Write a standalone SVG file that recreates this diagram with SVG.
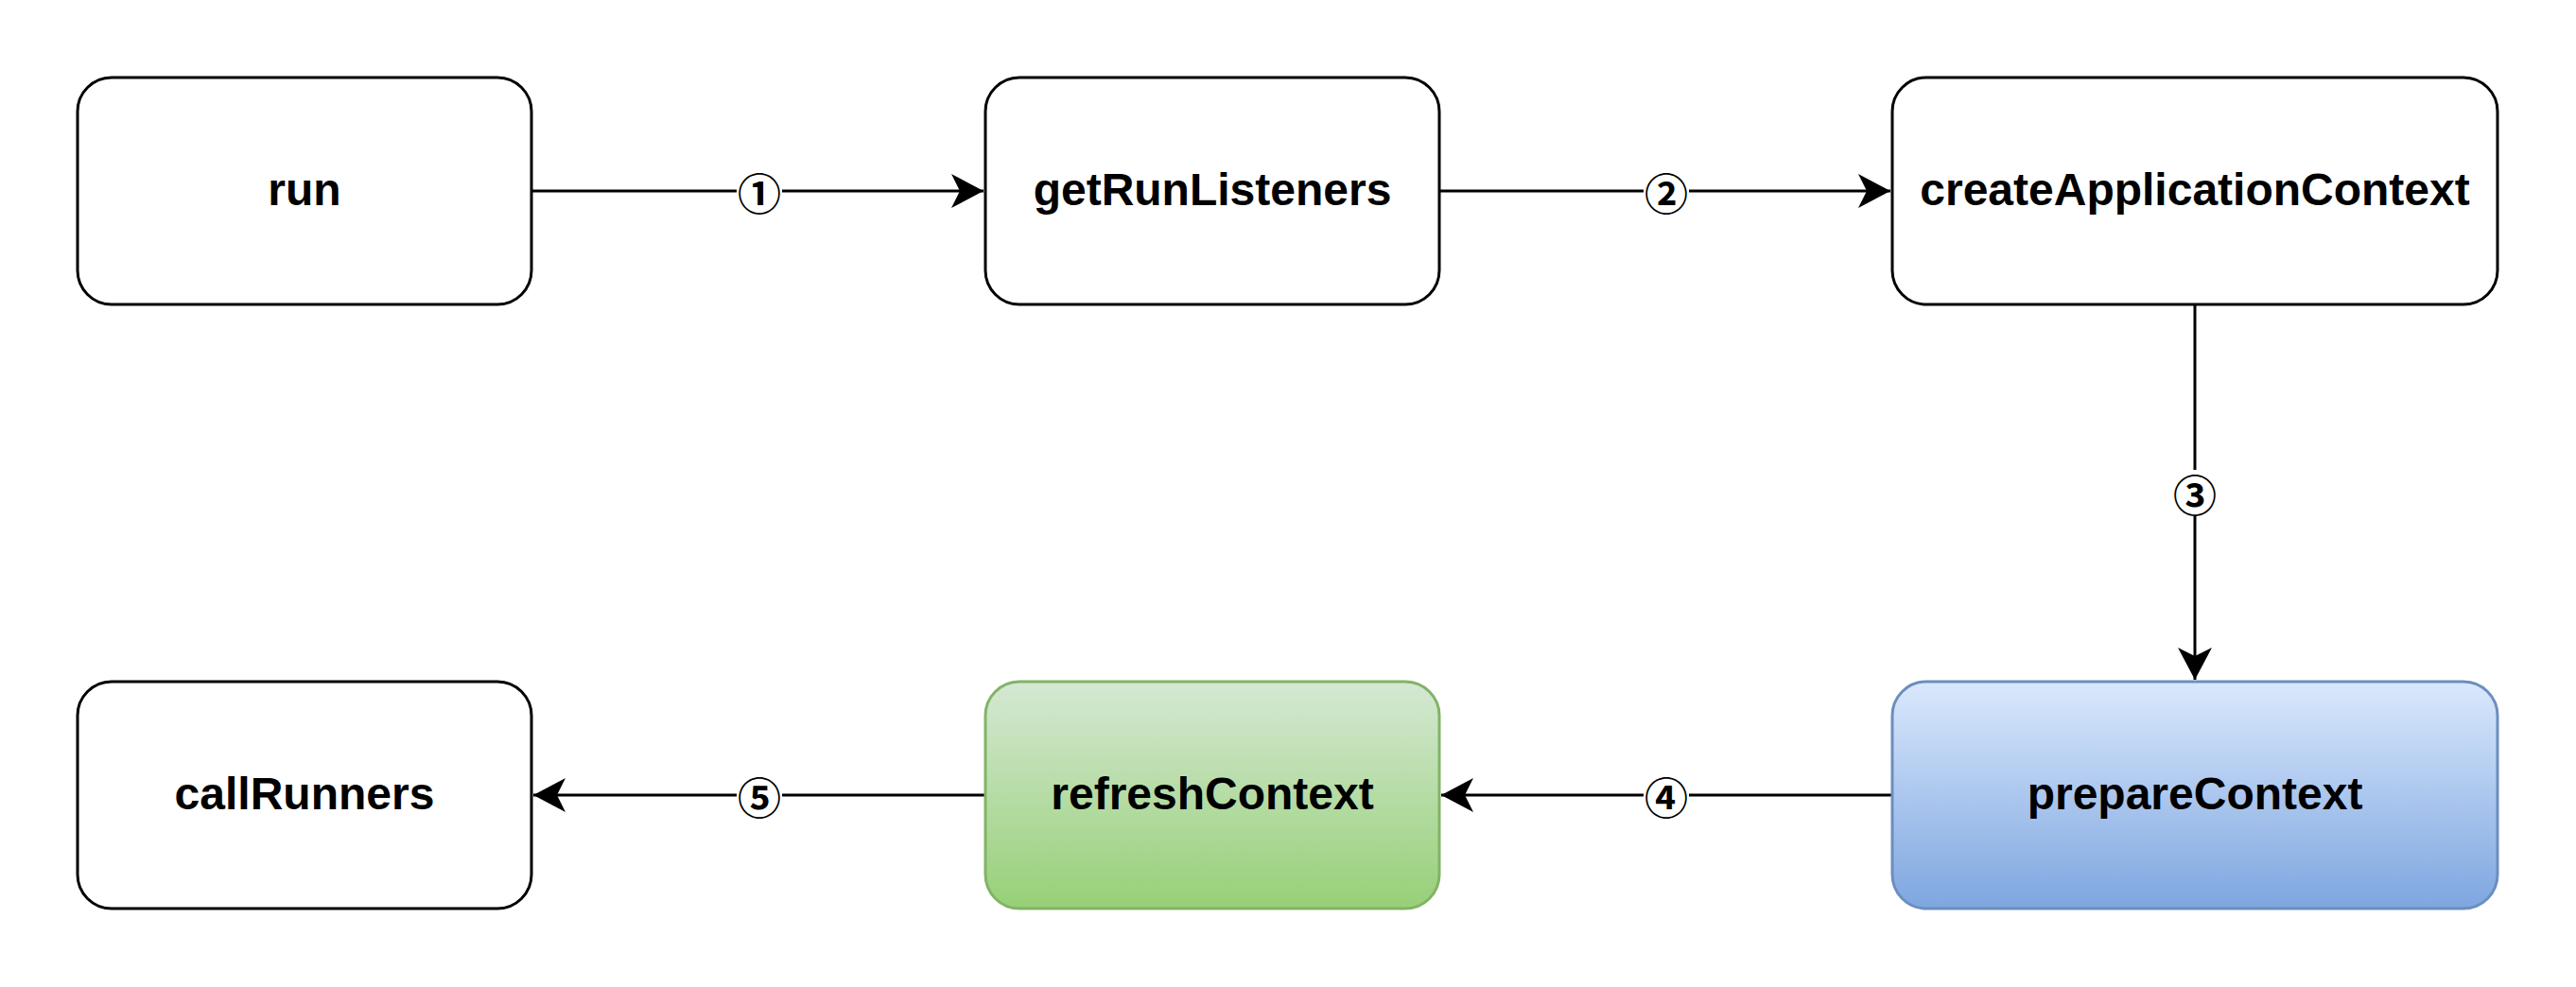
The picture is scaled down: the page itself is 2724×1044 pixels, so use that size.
<svg xmlns="http://www.w3.org/2000/svg" width="2724" height="1044" viewBox="0 0 2724 1044">
<style>
.box{stroke-width:3;}
.plain{fill:#ffffff;stroke:#000000;}
.lbl{font-family:"Liberation Sans",Arial,sans-serif;font-weight:bold;font-size:48px;fill:#000;text-anchor:middle;dominant-baseline:central;}
.edge{fill:none;stroke:#000;stroke-width:3;}
.num{font-family:"Noto Sans CJK SC","Noto Sans CJK JP",sans-serif;font-weight:bold;font-size:46px;fill:#000;text-anchor:middle;dominant-baseline:central;}
.bg{fill:#ffffff;}
</style>
<defs>
<linearGradient id="gBlue" x1="0" y1="0" x2="0" y2="1"><stop offset="0" stop-color="#dae8fc"/><stop offset="1" stop-color="#7ea6e0"/></linearGradient>
<linearGradient id="gGreen" x1="0" y1="0" x2="0" y2="1"><stop offset="0" stop-color="#d5e8d4"/><stop offset="1" stop-color="#97d077"/></linearGradient>
<marker id="arr" markerUnits="userSpaceOnUse" markerWidth="40" markerHeight="40" viewBox="-36 -20 40 40" refX="0" refY="0" orient="auto">
<path d="M0,0 L-34,-18 L-25,0 L-34,18 Z" fill="#000"/>
</marker>
</defs>
<rect width="2724" height="1044" fill="#ffffff"/>
<g id="connectors">
<g id="e1"><path class="edge" d="M562,202 L1040,202" marker-end="url(#arr)"/><rect class="bg" x="779" y="180" width="48" height="44"/><text class="num" x="803" y="202">①</text></g>
<g id="e2"><path class="edge" d="M1522,202 L1999,202" marker-end="url(#arr)"/><rect class="bg" x="1738" y="180" width="48" height="44"/><text class="num" x="1762" y="202">②</text></g>
<g id="e3"><path class="edge" d="M2321,322 L2321,719" marker-end="url(#arr)"/><rect class="bg" x="2297" y="497" width="48" height="48"/><text class="num" x="2321" y="521">③</text></g>
<g id="e4"><path class="edge" d="M2001,841 L1524,841" marker-end="url(#arr)"/><rect class="bg" x="1738" y="819" width="48" height="44"/><text class="num" x="1762" y="841">④</text></g>
<g id="e5"><path class="edge" d="M1042,841 L564,841" marker-end="url(#arr)"/><rect class="bg" x="779" y="819" width="48" height="44"/><text class="num" x="803" y="841">⑤</text></g>
</g>
<g id="node-run"><rect class="box plain" x="82" y="82" width="480" height="240" rx="36" ry="36"/><text class="lbl" x="322" y="200">run</text></g>
<g id="node-getRunListeners"><rect class="box plain" x="1042" y="82" width="480" height="240" rx="36" ry="36"/><text class="lbl" x="1282" y="200">getRunListeners</text></g>
<g id="node-createApplicationContext"><rect class="box plain" x="2001" y="82" width="640" height="240" rx="36" ry="36"/><text class="lbl" x="2321" y="200">createApplicationContext</text></g>
<g id="node-callRunners"><rect class="box plain" x="82" y="721" width="480" height="240" rx="36" ry="36"/><text class="lbl" x="322" y="839">callRunners</text></g>
<g id="node-refreshContext"><rect class="box" fill="url(#gGreen)" stroke="#82b366" x="1042" y="721" width="480" height="240" rx="36" ry="36"/><text class="lbl" x="1282" y="839">refreshContext</text></g>
<g id="node-prepareContext"><rect class="box" fill="url(#gBlue)" stroke="#6c8ebf" x="2001" y="721" width="640" height="240" rx="36" ry="36"/><text class="lbl" x="2321" y="839">prepareContext</text></g>
</svg>
